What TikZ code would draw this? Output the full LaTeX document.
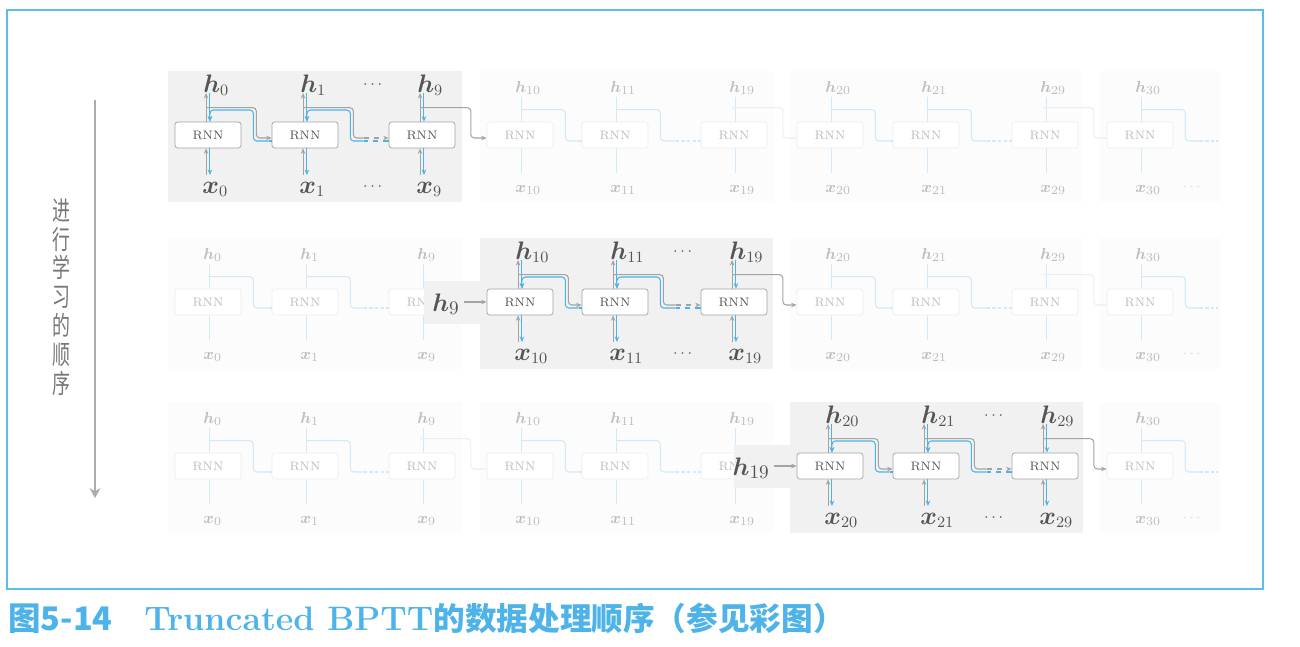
\documentclass[tikz,border=0pt]{standalone}
\usepackage{amsmath,amssymb}
\usepackage{fontspec}
\usepackage{xcolor}
\usepackage{tikz}
\usetikzlibrary{calc,arrows.meta,positioning}
\newfontfamily\cjk{Noto Sans CJK SC}
\newfontfamily\cjktall[FakeStretch=0.68]{Noto Sans CJK SC}
\definecolor{bluex}{HTML}{4AB4E8}
\definecolor{paleblue}{HTML}{D2EAF7}
\definecolor{framex}{HTML}{5CBDEA}
\definecolor{capblue}{HTML}{4EB3E8}
\definecolor{inkx}{HTML}{555555}
\definecolor{wirex}{HTML}{A3A3A3}
\definecolor{fadetxt}{HTML}{BDBDBD}
\definecolor{fadeline}{HTML}{EDEDED}
\definecolor{activebg}{HTML}{F1F1F1}
\definecolor{fadebg}{HTML}{FCFCFC}
\tikzset{
  wire/.style={wirex,line width=0.6pt},
  fw/.style={wire,-{Stealth[length=1.1mm,width=0.9mm]}},
  bw/.style={bluex,line width=0.6pt,-{Stealth[length=1.1mm,width=0.9mm]}},
  cell/.style={draw=wirex,fill=white,rounded corners=1.5pt,minimum width=1.32cm,minimum height=0.52cm,inner sep=0pt,font=\fontsize{7}{8}\selectfont,text=inkx},
  fcell/.style={cell,draw=fadeline,text=fadetxt},
  lab/.style={font=\fontsize{13.5}{16}\selectfont,text=inkx,inner sep=0pt,anchor=base west},
  flab/.style={lab,font=\fontsize{9.5}{11}\selectfont,text=fadetxt},
  trace/.style={paleblue,line width=0.6pt},
  dots/.style={dash pattern=on 2pt off 1.2pt}
}

\begin{document}
\begin{tikzpicture}[x=0.02cm,y=-0.02cm]
\useasboundingbox (0,0) rectangle (1300,646);
\draw[framex,line width=0.6pt] (7,10) rectangle (1263,589);
% blocks of ten steps
\foreach \r/\Y in {0/135,1/302,2/466}{
  \foreach \k/\xa/\xb in {0/168/462,1/480/773,2/790/1083,3/1100/1220}{
    \ifnum\k=\r \fill[activebg] (\xa,\Y-64) rectangle (\xb,\Y+67);
    \else \fill[fadebg] (\xa,\Y-64) rectangle (\xb,\Y+67); \fi
  }
}
% time steps
\foreach \r/\Y in {0/135,1/302,2/466}{
  \foreach \c/\X/\n/\p/\Xp/\np in {0/208/0/0/0/0,1/305/1/0/208/0,2/422/9/1/305/1,3/520/10/2/422/9,4/615/11/3/520/10,5/734/19/4/615/11,6/830/20/5/734/19,7/926/21/6/830/20,8/1045/29/7/926/21,9/1140/30/8/1045/29}{
    \pgfmathtruncatemacro\on{and(\c>=3*\r,\c<=3*\r+2)}
    \pgfmathtruncatemacro\pon{and(\p>=3*\r,\p<=3*\r+2)}
    \pgfmathtruncatemacro\pos{mod(\c,3)}
    \ifnum\pos=2 \def\gapstyle{dashed}\def\gapdots{dots}\def\dl{25}\else\def\gapstyle{solid}\def\gapdots{solid}\def\dl{3}\fi
    \coordinate (hp-\r-\c) at (\X,\Y-42);
    \coordinate (xp-\r-\c) at (\X,\Y+40);
    \ifnum\on=1
      \node[lab] (h-\r-\c) at (\X-5,\Y-43) {$\boldsymbol{h}_{\n}$};
      \node[lab] (x-\r-\c) at (\X-6,\Y+58) {$\boldsymbol{x}_{\n}$};
      \node[cell] (rnn-\r-\c) at (\X,\Y) {RNN};
      \draw[fw] ([xshift=-1.1pt]rnn-\r-\c.north) -- ([xshift=-1.1pt]hp-\r-\c);
      \draw[bw] ([xshift=1.1pt]hp-\r-\c) -- ([xshift=1.1pt]rnn-\r-\c.north);
      \draw[fw] ([xshift=-1.1pt]xp-\r-\c) -- ([xshift=-1.1pt]rnn-\r-\c.south);
      \draw[bw] ([xshift=1.1pt]rnn-\r-\c.south) -- ([xshift=1.1pt]xp-\r-\c);
    \else
      \node[flab] (h-\r-\c) at (\X-5,\Y-43) {$\boldsymbol{h}_{\n}$};
      \node[flab] (x-\r-\c) at (\X-5,\Y+57) {$\boldsymbol{x}_{\n}$};
      \draw[trace] ([xshift=1.1pt,yshift=-2pt]hp-\r-\c) -- ([xshift=1.1pt,yshift=1pt]xp-\r-\c);
      \node[fcell] (rnn-\r-\c) at (\X,\Y) {RNN};
    \fi
    \ifnum\c>0
    \ifnum\pos>0
      % inside a block
      \ifnum\on=1
        \draw[wire,rounded corners=2pt] ($(rnn-\r-\p.north)+(-2,-14)$) -| ($(rnn-\r-\p.east)+(15,3)$) -- ($(rnn-\r-\c.west)+(-\dl,3)$);
        \draw[fw,\gapstyle] ($(rnn-\r-\c.west)+(-\dl,3)$) -- ($(rnn-\r-\c.west)+(0,3)$);
        \draw[bluex,line width=0.6pt,\gapstyle] ($(rnn-\r-\c.west)+(0,6)$) -- ($(rnn-\r-\c.west)+(-\dl,6)$);
        \draw[bw,rounded corners=2pt] ($(rnn-\r-\c.west)+(-\dl,6)$) -| ($(rnn-\r-\p.east)+(12,-25)$) -| ([xshift=1.1pt]rnn-\r-\p.north);
        \ifnum\pos=2
          \node[text=inkx,font=\fontsize{9}{10}\selectfont] (dh-\r) at (\Xp+69,\Y-50) {$\cdots$};
          \node[text=inkx,font=\fontsize{9}{10}\selectfont] (dx-\r) at (\Xp+69,\Y+52) {$\cdots$};
        \fi
      \else
        \draw[trace,rounded corners=2pt] ($(rnn-\r-\p.north)+(2,-12)$) -| ($(rnn-\r-\p.east)+(12,6)$) -- ($(rnn-\r-\c.west)+(-\dl,6)$);
        \draw[trace,\gapdots] ($(rnn-\r-\c.west)+(-\dl,6)$) -- ($(rnn-\r-\c.west)+(0,6)$);
      \fi
    \else
      % between blocks
      \ifnum\pon=1
        \draw[fw,rounded corners=2pt] ($(rnn-\r-\p.north)+(-2,-14)$) -| ($(rnn-\r-\p.east)+(15.5,3)$) -- ($(rnn-\r-\c.west)+(0,3)$);
      \else\ifnum\on=1
        \fill[activebg] (\X-96,\Y-21) rectangle (\X-39,\Y+22);
        \node[lab,anchor=base east,font=\fontsize{15}{18}\selectfont] (hin-\r) at (\X-60,\Y+9) {$\boldsymbol{h}_{\np}$};
        \draw[fw] ([xshift=2pt]hin-\r.east |- rnn-\r-\c.west) -- (rnn-\r-\c.west);
      \else
        \draw[fadeline,line width=0.6pt,rounded corners=2pt] ($(rnn-\r-\p.north)+(-2,-14)$) -| ($(rnn-\r-\p.east)+(15.5,3)$) -- ($(rnn-\r-\c.west)+(0,3)$);
      \fi\fi
    \fi\fi
    \ifnum\c=9
      \coordinate (tail-\r) at (1218,\Y+6);
      \draw[trace,rounded corners=2pt] ($(rnn-\r-9.north)+(2,-12)$) -| ($(rnn-\r-9.east)+(12,6)$) -- ++(14,0) coordinate (tl-\r);
      \draw[trace,dots] (tl-\r) -- (tail-\r);
      \node[text=fadetxt!60,font=\fontsize{8}{9}\selectfont] (tdots-\r) at (1193,\Y+52) {$\cdots$};
    \fi
  }
}
% order of learning
\coordinate (ordtop) at (95,100);
\coordinate (ordbot) at (95,498);
\draw[-{Stealth[length=2mm,width=2.2mm]},line width=1.4pt,color=wirex!90] (ordtop) -- (ordbot);
\node[font=\cjktall\fontsize{15}{16.4}\selectfont,text=inkx!80,align=center,inner sep=0pt] (ordlab) at (61,297) {进\\行\\学\\习\\的\\顺\\序};
% caption
\node[anchor=west,text=capblue,inner sep=0pt,font=\cjk\bfseries\fontsize{18.5}{20}\selectfont] (cap) at (8,618) {图5-14\hspace{18pt}{\rmfamily\bfseries\fontsize{19.3}{20}\selectfont Truncated BPTT}{\fontsize{18}{20}\selectfont 的数据处理顺序（参见彩图）}};
\end{tikzpicture}
\end{document}
